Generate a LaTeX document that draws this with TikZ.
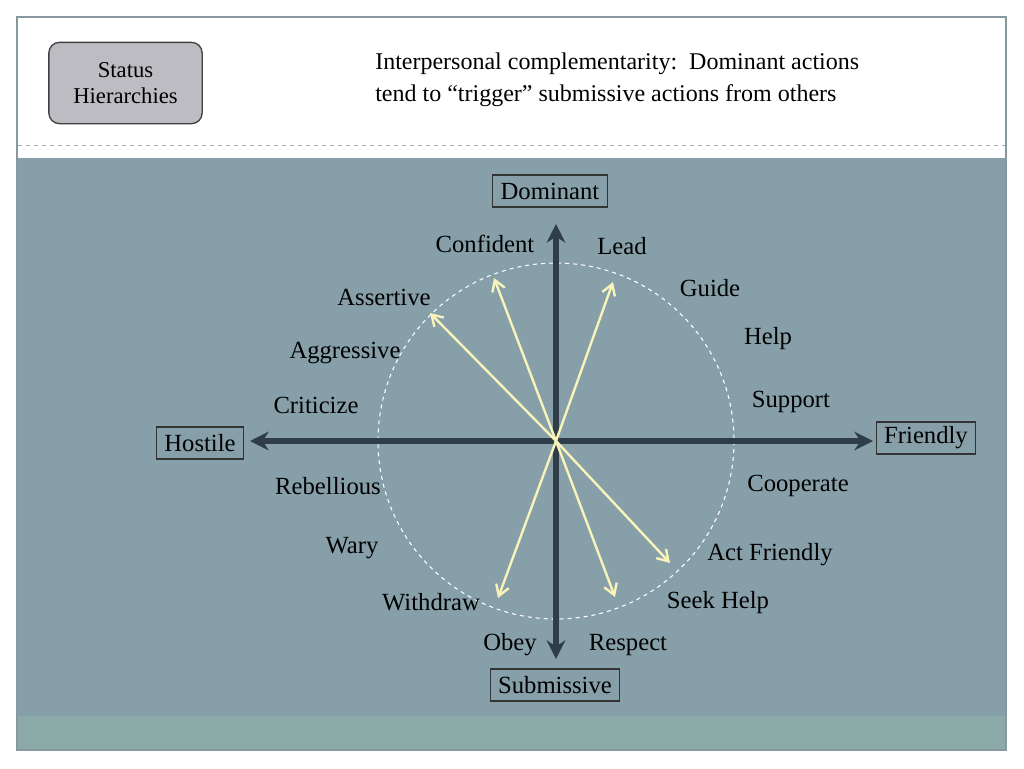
\documentclass[tikz,border=0pt]{standalone}
\usepackage{fontspec}
\setmainfont{Liberation Serif}
\begin{document}
\begin{tikzpicture}[x=0.75pt,y=-0.75pt,
  lbl/.style={font=\fontsize{18.5}{21}\selectfont,text=black,inner sep=0pt},
  boxl/.style={lbl,draw=black!80,line width=0.8pt,minimum height=24pt,inner xsep=6pt},
  axis/.style={line width=4.5pt,draw=axisc,-{Stealth[length=14pt,width=14pt]}},
  yel/.style={line width=1.8pt,draw=yelc,-{Straight Barb[length=8pt,width=10pt]}}]
\usetikzlibrary{arrows.meta}
\definecolor{axisc}{HTML}{2E3D47}
\definecolor{yelc}{HTML}{F8F3B8}
\definecolor{bgc}{HTML}{869FA9}
\definecolor{stripc}{HTML}{8BA9A6}
\useasboundingbox (0,0) rectangle (1024,768);
\fill[white] (0,0) rectangle (1024,768);
\fill[bgc] (18,158) rectangle (1006,716);
\fill[stripc] (18,716) rectangle (1006,750);
\draw[gray!70,dashed,line width=0.6pt] (18,145) -- (1006,145);
\draw[gray!60!cyan!40!gray,line width=0.8pt] (17,17) rectangle (1006,750);
\node[draw=black!75,line width=1pt,fill=gray!40!blue!8!gray!50,rounded corners=8pt,minimum width=115pt,minimum height=61pt,align=center,font=\fontsize{17}{20}\selectfont,inner sep=0pt] (st) at (125.5,83) {Status\\Hierarchies};
\node[lbl,anchor=west,align=left,font=\fontsize{18}{24}\selectfont] (title) at (375,80) {Interpersonal complementarity:\ \ Dominant actions\\tend to ``trigger'' submissive actions from others};
\coordinate (c) at (556,441);
\draw[white,dashed,line width=0.8pt] (c) circle (178);
\coordinate (t) at (556,224);
\coordinate (b) at (556,659);
\coordinate (l) at (250,441);
\coordinate (r) at (873,441);
\draw[axis] (c) -- (t);
\draw[axis] (c) -- (b);
\draw[axis] (c) -- (l);
\draw[axis] (c) -- (r);
\coordinate (a1) at (430,313);
\coordinate (a2) at (494,278);
\coordinate (a3) at (613,282);
\coordinate (a4) at (498,598);
\coordinate (a5) at (615,597);
\coordinate (a6) at (670,563);
\foreach \p in {a1,a2,a3,a4,a5,a6} \draw[yel] (c) -- (\p);
\node[boxl] (dom) at (550,191) {Dominant};
\node[boxl] (hos) at (200,443) {Hostile};
\node[boxl] (fri) at (926,438) {Friendly};
\node[boxl] (sub) at (555,685) {Submissive};
\node[lbl] (n1) at (485,244) {Confident};
\node[lbl] (n2) at (622,246) {Lead};
\node[lbl] (n3) at (710,288) {Guide};
\node[lbl] (n4) at (768,339) {Help};
\node[lbl] (n5) at (791,402) {Support};
\node[lbl] (n6) at (798,486) {Cooperate};
\node[lbl] (n7) at (770,555) {Act Friendly};
\node[lbl] (n8) at (718,603) {Seek Help};
\node[lbl] (n9) at (628,645) {Respect};
\node[lbl] (n10) at (510,645) {Obey};
\node[lbl] (n11) at (431,602) {Withdraw};
\node[lbl] (n12) at (352,548) {Wary};
\node[lbl] (n13) at (328,486) {Rebellious};
\node[lbl] (n14) at (316,405) {Criticize};
\node[lbl] (n15) at (345,353) {Aggressive};
\node[lbl] (n16) at (384,297) {Assertive};
\end{tikzpicture}
\end{document}
